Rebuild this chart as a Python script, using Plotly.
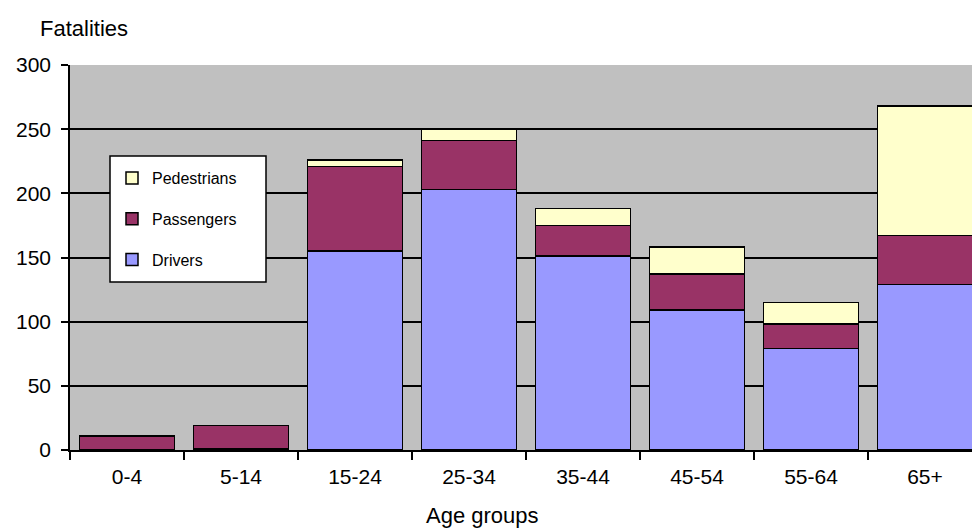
import plotly.graph_objects as go

categories = ["0-4", "5-14", "15-24", "25-34", "35-44", "45-54", "55-64", "65+"]
drivers = [0, 1, 155, 203, 151, 109, 79, 129]
passengers = [11, 18, 66, 38, 24, 28, 19, 38]
pedestrians = [0, 0, 5, 9, 13, 21, 17, 101]
y_ticks = [0, 50, 100, 150, 200, 250, 300]

FONT = "Liberation Sans, Arial, sans-serif"
line = dict(color="black", width=1.5)

fig = go.Figure()
fig.add_trace(go.Bar(x=categories, y=drivers, name="Drivers", legendgroup="d", legendrank=3,
                     marker=dict(color="#9999FF", line=line), width=0.83))
fig.add_trace(go.Bar(x=categories, y=passengers, name="Passengers", legendgroup="p", legendrank=2,
                     marker=dict(color="#993366", line=line), width=0.83))
fig.add_trace(go.Bar(x=categories, y=pedestrians, name="Pedestrians", legendgroup="q", legendrank=1,
                     marker=dict(color="#FFFFCC", line=line), width=0.83))

L, T, B = 70, 65, 79
W, H = 972, 529
pw, ph = W - L, H - T - B

def px(x):
    return (x - L) / pw

def py(y):
    return (H - B - y) / ph

fig.update_layout(
    width=W, height=H,
    margin=dict(l=L, r=0, t=T, b=B, pad=0),
    barmode="stack",
    plot_bgcolor="#C0C0C0",
    paper_bgcolor="white",
    font=dict(family=FONT, size=20, color="black"),
    showlegend=True,
    legend=dict(
        x=px(112), y=py(161), xanchor="left", yanchor="top",
        bgcolor="rgba(0,0,0,0)", borderwidth=0,
        traceorder="grouped", tracegroupgap=17,
        font=dict(family=FONT, size=16, color="black"),
        itemwidth=30,
    ),
    xaxis=dict(
        range=[-0.5, -0.5 + pw / 114], showline=True, linecolor="black", linewidth=1.5,
        ticks="outside", tickson="boundaries", ticklen=8, tickcolor="black", tickwidth=1.5,
        showgrid=False, tickfont=dict(size=21), ticklabelstandoff=7,
    ),
    yaxis=dict(
        range=[0, 300], tickvals=y_ticks, showline=True, linecolor="black", linewidth=1.5,
        ticks="outside", ticklen=7, tickcolor="black", tickwidth=1.5,
        showgrid=True, gridcolor="black", gridwidth=1.5, zeroline=False,
        tickfont=dict(size=21), ticklabelstandoff=6,
    ),
    shapes=[dict(type="rect", xref="paper", yref="paper",
                 x0=px(110), x1=px(266), y0=py(282), y1=py(156),
                 fillcolor="white", line=dict(color="black", width=1.5), layer="above")],
    annotations=[
        dict(text="Fatalities", xref="paper", yref="paper", x=px(84), y=py(28),
             xanchor="center", yanchor="middle", showarrow=False, font=dict(size=22)),
        dict(text="Age groups", xref="paper", yref="paper", x=px(482), y=py(515),
             xanchor="center", yanchor="middle", showarrow=False, font=dict(size=22)),
    ],
)
fig.write_html("out.html")
